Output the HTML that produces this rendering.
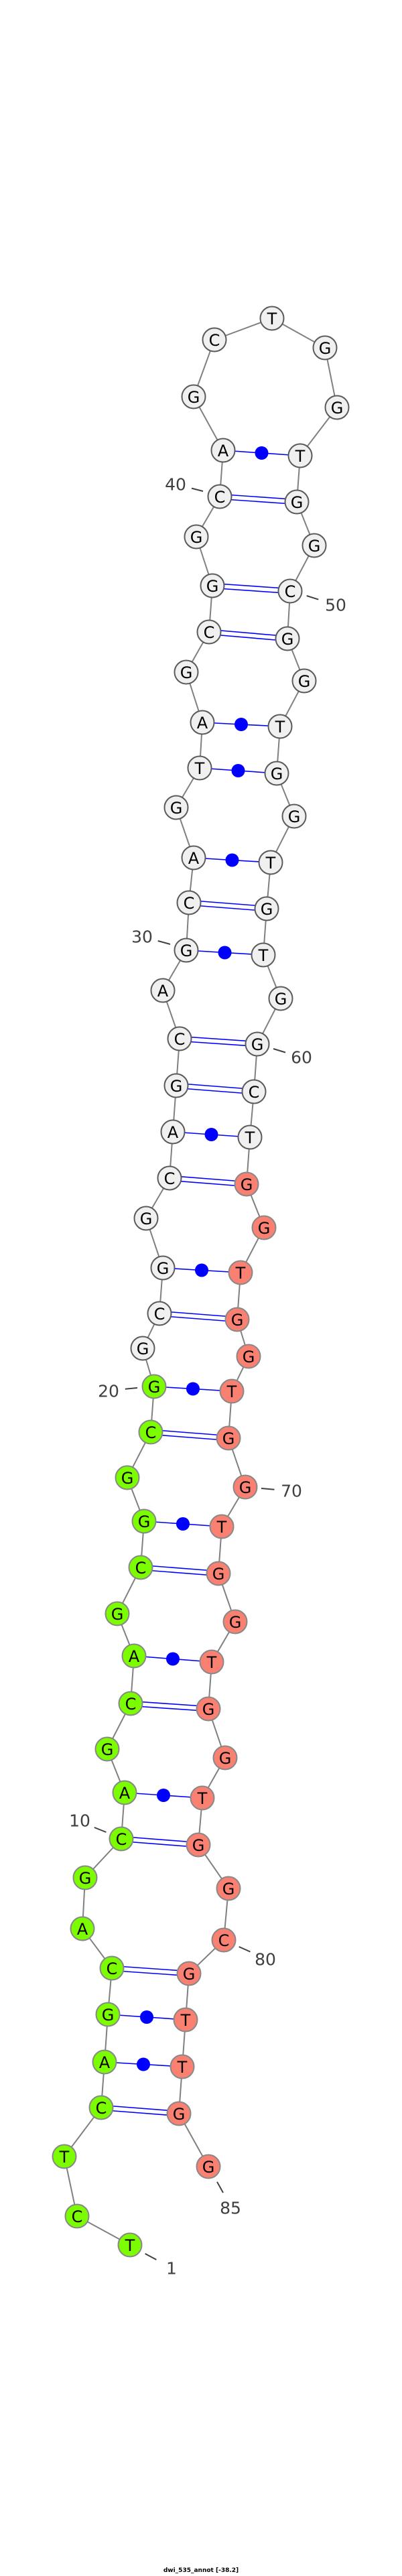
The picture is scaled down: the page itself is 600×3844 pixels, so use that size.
<!DOCTYPE html>
<html><head><meta charset="utf-8"><style>
html,body{margin:0;padding:0;background:#fff;width:600px;height:3844px;overflow:hidden}
svg{display:block}
.n text{font-family:"DejaVu Sans","Liberation Sans",sans-serif;font-size:24px;text-anchor:middle;dominant-baseline:central;fill:#000}
.lb{font-family:"DejaVu Sans","Liberation Sans",sans-serif;font-size:25px;fill:#404040;text-anchor:middle;dominant-baseline:central}
</style></head><body>
<svg width="600" height="3844" viewBox="0 0 600 3844" xmlns="http://www.w3.org/2000/svg">
<polyline fill="none" stroke="#808080" stroke-width="2" points="194,3350 115,3307 96,3218 151,3145 156,3077 161,3006 167,2937 123,2878 127,2802 181,2744 186,2675 160,2610 195,2542 200,2471 175,2408 210,2339 215,2270 190,2205 225,2137 230,2069 213,2012 238,1960 243,1892 218,1818 253,1758 258,1689 263,1620 268,1550 243,1478 278,1418 282,1347 289,1280 263,1205 298,1146 302,1078 278,1003 312,943 317,874 293,801 328,741 333,672 289,592 320,507 406,475 485,519 503,608 448,680 443,749 469,814 433,882 429,953 454,1016 418,1084 413,1154 439,1218 404,1287 398,1356 393,1425 419,1490 384,1558 379,1629 373,1697 368,1767 394,1832 359,1899 354,1969 371,2024 346,2076 341,2146 366,2219 331,2278 326,2348 351,2420 316,2480 311,2550 336,2623 302,2683 296,2753 341,2818 334,2895 282,2945 277,3014 272,3084 267,3154 311,3233"/>
<g stroke="#0000ff" stroke-width="1.6" fill="none">
<line x1="333" y1="672" x2="448" y2="680"/>
<line x1="302" y1="1078" x2="418" y2="1084"/>
<line x1="298" y1="1146" x2="413" y2="1154"/>
<line x1="289" y1="1280" x2="404" y2="1287"/>
<line x1="278" y1="1418" x2="393" y2="1425"/>
<line x1="258" y1="1689" x2="373" y2="1697"/>
<line x1="243" y1="1892" x2="359" y2="1899"/>
<line x1="230" y1="2069" x2="346" y2="2076"/>
<line x1="215" y1="2270" x2="331" y2="2278"/>
<line x1="200" y1="2471" x2="316" y2="2480"/>
<line x1="186" y1="2675" x2="302" y2="2683"/>
<line x1="161" y1="3006" x2="277" y2="3014"/>
<line x1="156" y1="3077" x2="272" y2="3084"/>
<line x1="328" y1="737.5" x2="443" y2="745.5"/><line x1="328" y1="744.5" x2="443" y2="752.5"/>
<line x1="317" y1="870.5" x2="433" y2="878.5"/><line x1="317" y1="877.5" x2="433" y2="885.5"/>
<line x1="312" y1="939.5" x2="429" y2="949.5"/><line x1="312" y1="946.5" x2="429" y2="956.5"/>
<line x1="282" y1="1343.5" x2="398" y2="1352.5"/><line x1="282" y1="1350.5" x2="398" y2="1359.5"/>
<line x1="268" y1="1546.5" x2="384" y2="1554.5"/><line x1="268" y1="1553.5" x2="384" y2="1561.5"/>
<line x1="263" y1="1616.5" x2="379" y2="1625.5"/><line x1="263" y1="1623.5" x2="379" y2="1632.5"/>
<line x1="253" y1="1754.5" x2="368" y2="1763.5"/><line x1="253" y1="1761.5" x2="368" y2="1770.5"/>
<line x1="238" y1="1956.5" x2="354" y2="1965.5"/><line x1="238" y1="1963.5" x2="354" y2="1972.5"/>
<line x1="225" y1="2133.5" x2="341" y2="2142.5"/><line x1="225" y1="2140.5" x2="341" y2="2149.5"/>
<line x1="210" y1="2335.5" x2="326" y2="2344.5"/><line x1="210" y1="2342.5" x2="326" y2="2351.5"/>
<line x1="195" y1="2538.5" x2="311" y2="2546.5"/><line x1="195" y1="2545.5" x2="311" y2="2553.5"/>
<line x1="181" y1="2740.5" x2="296" y2="2749.5"/><line x1="181" y1="2747.5" x2="296" y2="2756.5"/>
<line x1="167" y1="2933.5" x2="282" y2="2941.5"/><line x1="167" y1="2940.5" x2="282" y2="2948.5"/>
<line x1="151" y1="3141.5" x2="267" y2="3150.5"/><line x1="151" y1="3148.5" x2="267" y2="3157.5"/>
</g>
<g fill="#0000ff">
<circle cx="390.5" cy="676" r="10"/>
<circle cx="360" cy="1081" r="10"/>
<circle cx="355.5" cy="1150" r="10"/>
<circle cx="346.5" cy="1283.5" r="10"/>
<circle cx="335.5" cy="1421.5" r="10"/>
<circle cx="315.5" cy="1693" r="10"/>
<circle cx="301" cy="1895.5" r="10"/>
<circle cx="288" cy="2072.5" r="10"/>
<circle cx="273" cy="2274" r="10"/>
<circle cx="258" cy="2475.5" r="10"/>
<circle cx="244" cy="2679" r="10"/>
<circle cx="219" cy="3010" r="10"/>
<circle cx="214" cy="3080.5" r="10"/>
</g>
<g class="n" stroke-width="2">
<g fill="#7cfc00" stroke="#888">
<circle cx="194" cy="3350" r="17.5"/><circle cx="115" cy="3307" r="17.5"/><circle cx="96" cy="3218" r="17.5"/><circle cx="151" cy="3145" r="17.5"/><circle cx="156" cy="3077" r="17.5"/><circle cx="161" cy="3006" r="17.5"/><circle cx="167" cy="2937" r="17.5"/><circle cx="123" cy="2878" r="17.5"/><circle cx="127" cy="2802" r="17.5"/><circle cx="181" cy="2744" r="17.5"/><circle cx="186" cy="2675" r="17.5"/><circle cx="160" cy="2610" r="17.5"/><circle cx="195" cy="2542" r="17.5"/><circle cx="200" cy="2471" r="17.5"/><circle cx="175" cy="2408" r="17.5"/><circle cx="210" cy="2339" r="17.5"/><circle cx="215" cy="2270" r="17.5"/><circle cx="190" cy="2205" r="17.5"/><circle cx="225" cy="2137" r="17.5"/><circle cx="230" cy="2069" r="17.5"/>
</g>
<g fill="#f0f0f0" stroke="#5a5a5a">
<circle cx="213" cy="2012" r="17.5"/><circle cx="238" cy="1960" r="17.5"/><circle cx="243" cy="1892" r="17.5"/><circle cx="218" cy="1818" r="17.5"/><circle cx="253" cy="1758" r="17.5"/><circle cx="258" cy="1689" r="17.5"/><circle cx="263" cy="1620" r="17.5"/><circle cx="268" cy="1550" r="17.5"/><circle cx="243" cy="1478" r="17.5"/><circle cx="278" cy="1418" r="17.5"/><circle cx="282" cy="1347" r="17.5"/><circle cx="289" cy="1280" r="17.5"/><circle cx="263" cy="1205" r="17.5"/><circle cx="298" cy="1146" r="17.5"/><circle cx="302" cy="1078" r="17.5"/><circle cx="278" cy="1003" r="17.5"/><circle cx="312" cy="943" r="17.5"/><circle cx="317" cy="874" r="17.5"/><circle cx="293" cy="801" r="17.5"/><circle cx="328" cy="741" r="17.5"/><circle cx="333" cy="672" r="17.5"/><circle cx="289" cy="592" r="17.5"/><circle cx="320" cy="507" r="17.5"/><circle cx="406" cy="475" r="17.5"/><circle cx="485" cy="519" r="17.5"/><circle cx="503" cy="608" r="17.5"/><circle cx="448" cy="680" r="17.5"/><circle cx="443" cy="749" r="17.5"/><circle cx="469" cy="814" r="17.5"/><circle cx="433" cy="882" r="17.5"/><circle cx="429" cy="953" r="17.5"/><circle cx="454" cy="1016" r="17.5"/><circle cx="418" cy="1084" r="17.5"/><circle cx="413" cy="1154" r="17.5"/><circle cx="439" cy="1218" r="17.5"/><circle cx="404" cy="1287" r="17.5"/><circle cx="398" cy="1356" r="17.5"/><circle cx="393" cy="1425" r="17.5"/><circle cx="419" cy="1490" r="17.5"/><circle cx="384" cy="1558" r="17.5"/><circle cx="379" cy="1629" r="17.5"/><circle cx="373" cy="1697" r="17.5"/>
</g>
<g fill="#fa8072" stroke="#888">
<circle cx="368" cy="1767" r="17.5"/><circle cx="394" cy="1832" r="17.5"/><circle cx="359" cy="1899" r="17.5"/><circle cx="354" cy="1969" r="17.5"/><circle cx="371" cy="2024" r="17.5"/><circle cx="346" cy="2076" r="17.5"/><circle cx="341" cy="2146" r="17.5"/><circle cx="366" cy="2219" r="17.5"/><circle cx="331" cy="2278" r="17.5"/><circle cx="326" cy="2348" r="17.5"/><circle cx="351" cy="2420" r="17.5"/><circle cx="316" cy="2480" r="17.5"/><circle cx="311" cy="2550" r="17.5"/><circle cx="336" cy="2623" r="17.5"/><circle cx="302" cy="2683" r="17.5"/><circle cx="296" cy="2753" r="17.5"/><circle cx="341" cy="2818" r="17.5"/><circle cx="334" cy="2895" r="17.5"/><circle cx="282" cy="2945" r="17.5"/><circle cx="277" cy="3014" r="17.5"/><circle cx="272" cy="3084" r="17.5"/><circle cx="267" cy="3154" r="17.5"/><circle cx="311" cy="3233" r="17.5"/>
</g>
<text x="194" y="3351">T</text><text x="115" y="3308">C</text><text x="96" y="3219">T</text><text x="151" y="3146">C</text><text x="156" y="3078">A</text><text x="161" y="3007">G</text><text x="167" y="2938">C</text><text x="123" y="2879">A</text><text x="127" y="2803">G</text><text x="181" y="2745">C</text><text x="186" y="2676">A</text><text x="160" y="2611">G</text><text x="195" y="2543">C</text><text x="200" y="2472">A</text><text x="175" y="2409">G</text><text x="210" y="2340">C</text><text x="215" y="2271">G</text><text x="190" y="2206">G</text><text x="225" y="2138">C</text><text x="230" y="2070">G</text>
<text x="213" y="2013">G</text><text x="238" y="1961">C</text><text x="243" y="1893">G</text><text x="218" y="1819">G</text><text x="253" y="1759">C</text><text x="258" y="1690">A</text><text x="263" y="1621">G</text><text x="268" y="1551">C</text><text x="243" y="1479">A</text><text x="278" y="1419">G</text><text x="282" y="1348">C</text><text x="289" y="1281">A</text><text x="263" y="1206">G</text><text x="298" y="1147">T</text><text x="302" y="1079">A</text><text x="278" y="1004">G</text><text x="312" y="944">C</text><text x="317" y="875">G</text><text x="293" y="802">G</text><text x="328" y="742">C</text><text x="333" y="673">A</text><text x="289" y="593">G</text><text x="320" y="508">C</text><text x="406" y="476">T</text><text x="485" y="520">G</text><text x="503" y="609">G</text><text x="448" y="681">T</text><text x="443" y="750">G</text><text x="469" y="815">G</text><text x="433" y="883">C</text><text x="429" y="954">G</text><text x="454" y="1017">G</text><text x="418" y="1085">T</text><text x="413" y="1155">G</text><text x="439" y="1219">G</text><text x="404" y="1288">T</text><text x="398" y="1357">G</text><text x="393" y="1426">T</text><text x="419" y="1491">G</text><text x="384" y="1559">G</text><text x="379" y="1630">C</text><text x="373" y="1698">T</text>
<text x="368" y="1768">G</text><text x="394" y="1833">G</text><text x="359" y="1900">T</text><text x="354" y="1970">G</text><text x="371" y="2025">G</text><text x="346" y="2077">T</text><text x="341" y="2147">G</text><text x="366" y="2220">G</text><text x="331" y="2279">T</text><text x="326" y="2349">G</text><text x="351" y="2421">G</text><text x="316" y="2481">T</text><text x="311" y="2551">G</text><text x="336" y="2624">G</text><text x="302" y="2684">T</text><text x="296" y="2754">G</text><text x="341" y="2819">G</text><text x="334" y="2896">C</text><text x="282" y="2946">G</text><text x="277" y="3015">T</text><text x="272" y="3085">T</text><text x="267" y="3155">G</text><text x="311" y="3234">G</text>
</g>
<g stroke="#404040" stroke-width="2">
<line x1="286" y1="728.6" x2="303" y2="733"/>
<line x1="457.7" y1="889" x2="475.3" y2="894.6"/>
<line x1="235.7" y1="1404" x2="254" y2="1409"/>
<line x1="408" y1="1565" x2="426" y2="1570.5"/>
<line x1="186.8" y1="2072.8" x2="205" y2="2071"/>
<line x1="390" y1="2221" x2="409.5" y2="2222.8"/>
<line x1="140.8" y1="2727" x2="158.4" y2="2734"/>
<line x1="356.7" y1="2905" x2="373.5" y2="2912.5"/>
<line x1="324" y1="3255.8" x2="333" y2="3272"/>
<line x1="216.6" y1="3363" x2="233.4" y2="3372"/>
</g>
<text class="lb" x="262" y="723">40</text>
<text class="lb" x="501" y="903">50</text>
<text class="lb" x="212" y="1398">30</text>
<text class="lb" x="450" y="1578">60</text>
<text class="lb" x="162" y="2076">20</text>
<text class="lb" x="435" y="2225">70</text>
<text class="lb" x="119" y="2717">10</text>
<text class="lb" x="396" y="2924">80</text>
<text class="lb" x="344" y="3295">85</text>
<text class="lb" x="256" y="3385">1</text>
<text x="300" y="3838" font-family="DejaVu Sans, Liberation Sans, sans-serif" font-size="9" font-weight="bold" text-anchor="middle" fill="#000">dwi_535_annot [-38.2]</text>
</svg>
</body></html>
